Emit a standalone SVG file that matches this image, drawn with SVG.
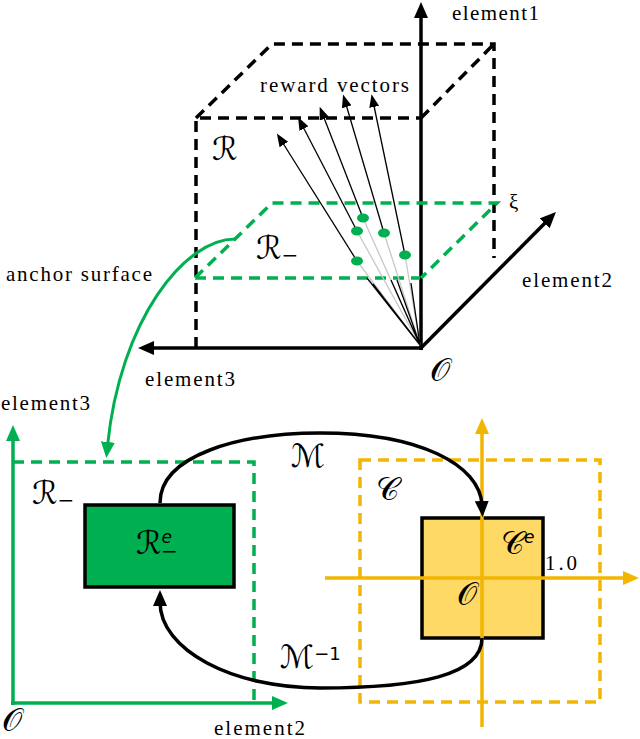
<svg xmlns="http://www.w3.org/2000/svg" width="640" height="739" viewBox="0 0 640 739">
<style>
.lbl{font-family:"Liberation Serif","Times New Roman",serif;font-size:21px;fill:#000}
.math{font-family:"DejaVu Sans","Noto Sans",sans-serif;font-size:32px;fill:#000}
.sup{font-family:"DejaVu Sans","Noto Sans",sans-serif;font-size:17px;font-style:italic}
.supn{font-family:"DejaVu Sans","Noto Sans",sans-serif;font-size:18px}
.bdash{fill:none;stroke:#000;stroke-width:3.5;stroke-dasharray:11 7}
.gdash{fill:none;stroke:#00B050;stroke-width:3.5;stroke-dasharray:11 7}
.ydash{fill:none;stroke:#F2B600;stroke-width:3.5;stroke-dasharray:11 7}
.bax{fill:none;stroke:#000;stroke-width:3.5}
.gax{fill:none;stroke:#00B050;stroke-width:3.5}
.yax{fill:none;stroke:#F2B600;stroke-width:3.5}
.vec{fill:none;stroke:#000;stroke-width:1.3}
.grey{fill:none;stroke:#c8c8c8;stroke-width:1.3}
.dot{fill:#00B050}
</style>
<defs>
<marker id="ahB" viewBox="0 0 16 14" markerWidth="16" markerHeight="14" refX="4" refY="7" orient="auto" markerUnits="userSpaceOnUse"><path d="M0,0 L16,7 L0,14 z" fill="#000"/></marker>
<marker id="ahG" viewBox="0 0 16 14" markerWidth="16" markerHeight="14" refX="4" refY="7" orient="auto" markerUnits="userSpaceOnUse"><path d="M0,0 L16,7 L0,14 z" fill="#00B050"/></marker>
<marker id="ahY" viewBox="0 0 16 14" markerWidth="16" markerHeight="14" refX="4" refY="7" orient="auto" markerUnits="userSpaceOnUse"><path d="M0,0 L16,7 L0,14 z" fill="#F2B600"/></marker>
<marker id="ahS" viewBox="0 0 13 10" markerWidth="13" markerHeight="10" refX="3" refY="5" orient="auto" markerUnits="userSpaceOnUse"><path d="M0,0 L13,5 L0,10 z" fill="#000"/></marker>
</defs>

<g id="reward-space">
<path class="bdash" d="M196,348 L196,118 L421,118 M196,118 L272,44 L494,44 L494,258 M421,118 L494,44"/>
<path class="bax" d="M421,350 L421,14" marker-end="url(#ahB)"/>
<path class="bax" d="M423,348 L150,348" marker-end="url(#ahB)"/>
<path class="bax" d="M420,349 L547.5,220.5" marker-end="url(#ahB)"/>
<text class="lbl" x="452" y="20" textLength="87">element1</text>
<text class="lbl" x="522" y="287" textLength="90">element2</text>
<text class="lbl" x="145" y="386" textLength="90">element3</text>
<text class="math" x="430" y="381">𝒪</text>
<text class="math" x="212" y="160">ℛ</text>
</g>

<g id="anchor-plane">
<path class="gdash" d="M195,278 L420,278 M195,278 L272,203 L497,203 L421,278"/>
<text class="lbl" x="509" y="209" font-size="22">ξ</text>
<text class="math" x="256" y="259">ℛ<tspan font-size="20" dy="3">−</tspan></text>
</g>

<g id="reward-vectors">
<path class="grey" d="M357,261 L420,345 M357,231 L420,345 M363,218 L420,345 M384,233 L420,345 M405,255 L420,345"/>
<path class="vec" d="M373,284 L420,345 M367,278 L420,345 M391,280 L420,345 M397,280 L420,345 M411,283 L420,345"/>
<path class="vec" d="M357,261 L282.2,142" marker-end="url(#ahS)"/>
<path class="vec" d="M357,231 L302.6,126" marker-end="url(#ahS)"/>
<path class="vec" d="M363,218 L323.3,116" marker-end="url(#ahS)"/>
<path class="vec" d="M384,233 L345.9,104" marker-end="url(#ahS)"/>
<path class="vec" d="M405,255 L373.6,104" marker-end="url(#ahS)"/>
<ellipse class="dot" cx="363" cy="218" rx="6" ry="4.5"/>
<ellipse class="dot" cx="357" cy="231" rx="6" ry="4.5"/>
<ellipse class="dot" cx="384" cy="233" rx="6" ry="4.5"/>
<ellipse class="dot" cx="405" cy="255" rx="6" ry="4.5"/>
<ellipse class="dot" cx="357" cy="261" rx="6" ry="4.5"/>
<text class="lbl" x="260" y="92" textLength="149">reward vectors</text>
</g>

<g id="anchor-label">
<text class="lbl" x="6" y="281" textLength="146">anchor surface</text>
</g>

<g id="r-minus-space">
<path class="gax" d="M13,705 L13,437" marker-end="url(#ahG)"/>
<path class="gax" d="M11,703 L276,703" marker-end="url(#ahG)"/>
<path class="gdash" d="M13,462 L254,462 L254,703"/>
<text class="lbl" x="1" y="410" textLength="89">element3</text>
<text class="lbl" x="214" y="735" textLength="91">element2</text>
<text class="math" x="2" y="731">𝒪</text>
<text class="math" x="32" y="504">ℛ<tspan font-size="20" dy="3">−</tspan></text>
</g>

<g id="r-e-box">
<rect x="85" y="505" width="149" height="82" fill="#00B050" stroke="#000" stroke-width="3.5"/>
<text class="math" x="136" y="554">ℛ<tspan class="sup" dy="-11">e</tspan><tspan font-size="20" dx="-11" dy="15">−</tspan></text>
</g>

<g id="c-space">
<path class="ydash" d="M360,460 L600,460 L600,702 L360,702 Z"/>
<rect x="422" y="518" width="121" height="120" fill="#FFD966" stroke="#000" stroke-width="3.5"/>
<path class="yax" d="M482,727 L482,430" marker-end="url(#ahY)"/>
<path class="yax" d="M325,578 L627,578" marker-end="url(#ahY)"/>
<text class="math" x="376" y="500">𝒞</text>
<text class="math" x="501" y="554">𝒞<tspan class="sup" dy="-11">e</tspan></text>
<text class="math" x="457" y="605">𝒪</text>
<text class="lbl" x="545" y="570" textLength="32">1.0</text>
</g>

<g id="connectors">
<path d="M236,239 C185,238 120,320 107.5,446" fill="none" stroke="#00B050" stroke-width="3" marker-end="url(#ahG)"/>
<path d="M160,503 C160,455 240,433 320,433 C420,433 480,465 482,505" fill="none" stroke="#000" stroke-width="3.5" marker-end="url(#ahB)"/>
<path d="M482,638 C482,675 420,688 320,688 C232,688 160,650 160,602" fill="none" stroke="#000" stroke-width="3.5" marker-end="url(#ahB)"/>
<text class="math" x="291" y="467">ℳ</text>
<text class="math" x="280" y="668">ℳ<tspan class="supn" dy="-8">−1</tspan></text>
</g>
</svg>
